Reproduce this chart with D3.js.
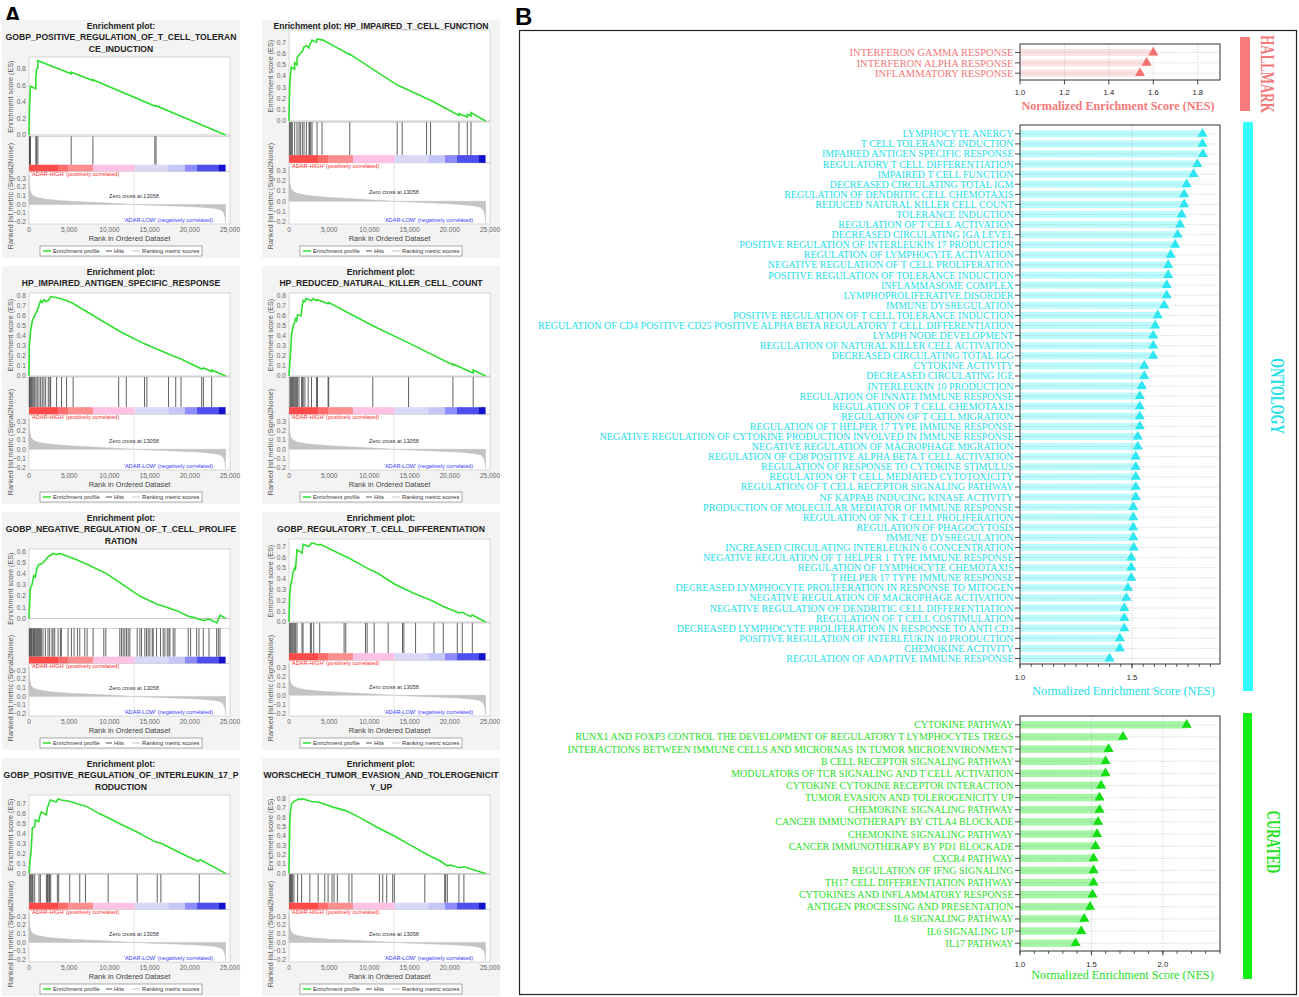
<!DOCTYPE html>
<html>
<head>
<meta charset="utf-8">
<script src="https://cdn.jsdelivr.net/npm/d3@7"></script>
<style>
  body { margin: 0; background: #fff; }
  svg { display: block; }
</style>
</head>
<body>
<div id="chart"></div>
<script>
// ---------- panel A : GSEA enrichment plots ----------
const gseaTitles = [
  ["Enrichment plot:", "GOBP_POSITIVE_REGULATION_OF_T_CELL_TOLERAN", "CE_INDUCTION"],
  ["Enrichment plot: HP_IMPAIRED_T_CELL_FUNCTION"],
  ["Enrichment plot:", "HP_IMPAIRED_ANTIGEN_SPECIFIC_RESPONSE"],
  ["Enrichment plot:", "HP_REDUCED_NATURAL_KILLER_CELL_COUNT"],
  ["Enrichment plot:", "GOBP_NEGATIVE_REGULATION_OF_T_CELL_PROLIFE", "RATION"],
  ["Enrichment plot:", "GOBP_REGULATORY_T_CELL_DIFFERENTIATION"],
  ["Enrichment plot:", "GOBP_POSITIVE_REGULATION_OF_INTERLEUKIN_17_P", "RODUCTION"],
  ["Enrichment plot:", "WORSCHECH_TUMOR_EVASION_AND_TOLEROGENICIT", "Y_UP"]
];

// running enrichment score, [rank, ES]
const es1 = [[0,0],[60,0.33],[120,0.45],[180,0.59],[850,0.56],[850,0.68],[950,0.8],[1100,0.81],[1100,0.9],[5250,0.74],[5250,0.76],[7950,0.66],[7950,0.67],[15650,0.35],[15800,0.355],[24450,0]];
const es2 = [[0,0],[80,0.3],[170,0.4],[290,0.48],[700,0.46],[700,0.52],[1000,0.5],[1000,0.56],[1250,0.59],[1400,0.6],[1660,0.62],[1870,0.66],[2160,0.67],[2490,0.65],[2580,0.68],[2870,0.72],[3400,0.7],[3490,0.73],[4110,0.72],[4110,0.725],[7560,0.59],[7560,0.595],[13460,0.32],[14080,0.3],[17110,0.2],[17610,0.185],[21140,0.05],[21140,0.065],[22180,0.035],[22180,0.06],[22630,0.045],[22630,0.075],[24450,0]];
const es3 = [[0,0],[40,0.3],[210,0.45],[410,0.55],[700,0.6],[1030,0.65],[1240,0.7],[1450,0.75],[1650,0.73],[1860,0.76],[2070,0.74],[2400,0.75],[2690,0.79],[3430,0.78],[4050,0.765],[4670,0.75],[5490,0.72],[11150,0.45],[12100,0.41],[14370,0.32],[14660,0.31],[17350,0.22],[18250,0.19],[18910,0.17],[21480,0.07],[21690,0.08],[22720,0.045],[22720,0.06],[24450,0]];
const es4 = [[0,0],[120,0.15],[330,0.42],[540,0.5],[820,0.57],[950,0.55],[1070,0.61],[1500,0.6],[1650,0.7],[1770,0.75],[1980,0.74],[2100,0.77],[2800,0.75],[3000,0.77],[3420,0.75],[3540,0.76],[4860,0.72],[4940,0.73],[10420,0.5],[14870,0.33],[20390,0.11],[20390,0.12],[22910,0.03],[22910,0.06],[24450,0]];
const es5 = [[0,0],[166,0.27],[374,0.3],[581,0.38],[789,0.37],[997,0.45],[1204,0.48],[1620,0.49],[2035,0.52],[2367,0.55],[2575,0.56],[2990,0.58],[3405,0.57],[3821,0.58],[4028,0.575],[5690,0.53],[7351,0.48],[9635,0.4],[11711,0.3],[13788,0.2],[15864,0.13],[17110,0.1],[18356,0.07],[19810,0.02],[20433,0.01],[21263,-0.01],[21886,-0.02],[22094,-0.005],[22509,-0.01],[23362,-0.04],[23778,0.03],[24450,0]];
const es6 = [[0,0],[83,0.25],[208,0.34],[374,0.4],[498,0.46],[706,0.5],[789,0.48],[830,0.51],[997,0.67],[1412,0.65],[1620,0.64],[1744,0.72],[2160,0.71],[2492,0.7],[2783,0.73],[3073,0.73],[3613,0.715],[3904,0.72],[6936,0.61],[7143,0.605],[9718,0.5],[11089,0.45],[13165,0.35],[15449,0.27],[17733,0.2],[18979,0.15],[20931,0.09],[21263,0.085],[21554,0.09],[22592,0.05],[22800,0.065],[24450,0]];
const es7 = [[0,0],[166,0.15],[291,0.26],[415,0.46],[706,0.47],[789,0.54],[1204,0.52],[1329,0.57],[1537,0.62],[1952,0.6],[2160,0.59],[2284,0.66],[2450,0.7],[2658,0.74],[3405,0.72],[3613,0.75],[4028,0.74],[4859,0.73],[5274,0.72],[6520,0.69],[7018,0.68],[8804,0.6],[9843,0.56],[11296,0.5],[13373,0.42],[15657,0.32],[16488,0.3],[18979,0.2],[21056,0.12],[21263,0.14],[24450,0]];
const es8 = [[0,0],[82,0.5],[165,0.65],[330,0.75],[536,0.76],[742,0.78],[1071,0.79],[1236,0.8],[1442,0.79],[1648,0.8],[2390,0.78],[2719,0.77],[3626,0.765],[4450,0.74],[5480,0.71],[7128,0.67],[8776,0.6],[10836,0.5],[13102,0.4],[15162,0.3],[17222,0.2],[18870,0.13],[19694,0.08],[20106,0.09],[21135,0.06],[21465,0.065],[21754,0.07],[24430,0]];

// gene set hit positions (rank)
const hits1 = [60,120,180,850,950,1100,5250,7950,15650,15800];
const hits2 = [83,166,290,415,706,997,1246,1412,1661,1869,2160,2492,2575,2700,2866,3489,4111,7559,13456,14079,17110,17609,21139,22177,22634];
const hits3 = [40,120,210,290,410,540,700,870,1030,1240,1450,1650,1860,2070,2400,2600,2690,3430,4050,4670,5490,11150,12100,14370,14660,17350,18250,18910,21480,21690,22720];
const hits4 = [120,210,330,450,540,660,820,950,1070,1240,1570,1650,1770,1980,2390,2800,3420,3540,4860,4940,10420,14870,20390,22910];
const hits5 = [42,125,208,291,374,498,581,664,789,914,1038,1163,1287,1412,1537,1744,2035,2367,2575,2866,2990,3198,3613,3904,4028,4859,5274,5607,6022,6313,6936,7226,7974,9303,9552,11296,11504,11711,11919,12127,12334,12542,13456,13788,13996,14411,14619,14826,15034,15325,15449,15864,16363,16695,16903,17194,17401,17526,17941,18149,19810,20101,20849,21139,21679,22385,23340,23548,23756];
const hits6 = [83,166,291,415,581,706,830,997,1620,1744,2658,2783,3073,3821,6852,7060,9510,9718,10590,12334,14120,14286,15740,18024,19187,20931,21554,22800];
const hits7 = [83,166,291,415,498,706,1246,1412,2160,2284,2367,2492,2575,2700,3530,3696,5067,6313,7018,9843,13456,15948,16404,21180];
const hits8 = [82,165,247,330,453,618,1071,1566,2596,3626,4450,4862,5356,5603,6015,7457,7828,11248,11660,12154,12896,13102,16892,19364,19488,19694,21135,21754];

const esDomains = [[-0.016,0.944],[-0.01,0.81],[-0.01,0.825],[-0.01,0.826],[-0.088,0.62],[-0.01,0.77],[-0.01,0.79],[-0.01,0.84]];
const esSteps = [0.2,0.1,0.1,0.1,0.1,0.1,0.1,0.1];

// ranked list metric (Signal2Noise), shared by all plots
const rankedMetric = [[0,0.34],[30,0.25],[100,0.18],[250,0.13],[500,0.1],[1000,0.08],[2000,0.062],[3000,0.052],[5000,0.038],[8000,0.024],[11000,0.01],[13058,0],[15000,-0.008],[18000,-0.018],[21000,-0.03],[23000,-0.045],[23800,-0.06],[24200,-0.09],[24400,-0.15],[24450,-0.21]];
const rankTicks = [0.3,0.2,0.1,0.0,-0.1,-0.2];
const rankXTicks = [0,5000,10000,15000,20000,25000];
const zeroCross = 13058;
const colorBreaks = [0,3610,4860,7970,13160,17320,19390,20850,23550,24450];
const colorBarColors = ["#ff4a4a","#ff6c6c","#ff8e8e","#ffc2e4","#d9d9f7","#c6c6f9","#8c8cff","#4f4fee","#1212cc"];

// ---------- panel B : NES summaries ----------
const hallmarkTerms = ["INTERFERON GAMMA RESPONSE","INTERFERON ALPHA RESPONSE","INFLAMMATORY RESPONSE"];
const hallmarkNES = [1.60,1.57,1.54];

const ontologyTerms = [
  "LYMPHOCYTE ANERGY","T CELL TOLERANCE INDUCTION","IMPAIRED ANTIGEN SPECIFIC RESPONSE","REGULATORY T CELL DIFFERENTIATION",
  "IMPAIRED T CELL FUNCTION","DECREASED CIRCULATING TOTAL IGM","REGULATION OF DENDRITIC CELL CHEMOTAXIS","REDUCED NATURAL KILLER CELL COUNT",
  "TOLERANCE INDUCTION","REGULATION OF T CELL ACTIVATION","DECREASED CIRCULATING IGA LEVEL","POSITIVE REGULATION OF INTERLEUKIN 17 PRODUCTION",
  "REGULATION OF LYMPHOCYTE ACTIVATION","NEGATIVE REGULATION OF T CELL PROLIFERATION","POSITIVE REGULATION OF TOLERANCE INDUCTION","INFLAMMASOME COMPLEX",
  "LYMPHOPROLIFERATIVE DISORDER","IMMUNE DYSREGULATION","POSITIVE REGULATION OF T CELL TOLERANCE INDUCTION",
  "REGULATION OF CD4 POSITIVE CD25 POSITIVE ALPHA BETA REGULATORY T CELL DIFFERENTIATION","LYMPH NODE DEVELOPMENT",
  "REGULATION OF NATURAL KILLER CELL ACTIVATION","DECREASED CIRCULATING TOTAL IGG","CYTOKINE ACTIVITY","DECREASED CIRCULATING IGE",
  "INTERLEUKIN 10 PRODUCTION","REGULATION OF INNATE IMMUNE RESPONSE","REGULATION OF T CELL CHEMOTAXIS","REGULATION OF T CELL MIGRATION",
  "REGULATION OF T HELPER 17 TYPE IMMUNE RESPONSE","NEGATIVE REGULATION OF CYTOKINE PRODUCTION INVOLVED IN IMMUNE RESPONSE",
  "NEGATIVE REGULATION OF MACROPHAGE MIGRATION","REGULATION OF CD8 POSITIVE ALPHA BETA T CELL ACTIVATION","REGULATION OF RESPONSE TO CYTOKINE STIMULUS",
  "REGULATION OF T CELL MEDIATED CYTOTOXICITY","REGULATION OF T CELL RECEPTOR SIGNALING PATHWAY","NF KAPPAB INDUCING KINASE ACTIVITY",
  "PRODUCTION OF MOLECULAR MEDIATOR OF IMMUNE RESPONSE","REGULATION OF NK T CELL PROLIFERATION","REGULATION OF PHAGOCYTOSIS","IMMUNE DYSREGULATION",
  "INCREASED CIRCULATING INTERLEUKIN 6 CONCENTRATION","NEGATIVE REGULATION OF T HELPER 1 TYPE IMMUNE RESPONSE","REGULATION OF LYMPHOCYTE CHEMOTAXIS",
  "T HELPER 17 TYPE IMMUNE RESPONSE","DECREASED LYMPHOCYTE PROLIFERATION IN RESPONSE TO MITOGEN","NEGATIVE REGULATION OF MACROPHAGE ACTIVATION",
  "NEGATIVE REGULATION OF DENDRITIC CELL DIFFERENTIATION","REGULATION OF T CELL COSTIMULATION","DECREASED LYMPHOCYTE PROLIFERATION IN RESPONSE TO ANTI CD3",
  "POSITIVE REGULATION OF INTERLEUKIN 10 PRODUCTION","CHEMOKINE ACTIVITY","REGULATION OF ADAPTIVE IMMUNE RESPONSE"
];
const ontologyNES = [1.815,1.815,1.817,1.792,1.775,1.744,1.733,1.733,1.722,1.715,1.704,1.693,1.673,1.662,1.662,1.655,1.655,1.644,1.615,
  1.604,1.595,1.595,1.595,1.555,1.555,1.544,1.535,1.535,1.535,1.535,1.526,1.526,1.517,1.517,1.517,1.517,1.517,
  1.506,1.506,1.506,1.506,1.508,1.497,1.497,1.497,1.482,1.475,1.466,1.466,1.466,1.446,1.446,1.400];

const curatedTerms = [
  "CYTOKINE PATHWAY","RUNX1 AND FOXP3 CONTROL THE DEVELOPMENT OF REGULATORY T LYMPHOCYTES TREGS",
  "INTERACTIONS BETWEEN IMMUNE CELLS AND MICRORNAS IN TUMOR MICROENVIRONMENT","B CELL RECEPTOR SIGNALING PATHWAY",
  "MODULATORS OF TCR SIGNALING AND T CELL ACTIVATION","CYTOKINE CYTOKINE RECEPTOR INTERACTION","TUMOR EVASION AND TOLEROGENICITY UP",
  "CHEMOKINE SIGNALING PATHWAY","CANCER IMMUNOTHERAPY BY CTLA4 BLOCKADE","CHEMOKINE SIGNALING PATHWAY","CANCER IMMUNOTHERAPY BY PD1 BLOCKADE",
  "CXCR4 PATHWAY","REGULATION OF IFNG SIGNALING","TH17 CELL DIFFERENTIATION PATHWAY","CYTOKINES AND INFLAMMATORY RESPONSE",
  "ANTIGEN PROCESSING AND PRESENTATION","IL6 SIGNALING PATHWAY","IL6 SIGNALING UP","IL17 PATHWAY"
];
const curatedNES = [2.167,1.721,1.620,1.599,1.599,1.568,1.557,1.557,1.547,1.540,1.529,1.515,1.515,1.515,1.508,1.491,1.450,1.429,1.390];

const esCurves = [es1,es2,es3,es4,es5,es6,es7,es8];
const hitSets = [hits1,hits2,hits3,hits4,hits5,hits6,hits7,hits8];

const svg = d3.select("#chart").append("svg")
    .attr("width", 1299)
    .attr("height", 997)
    .style("font-family", "'Liberation Sans', Arial, sans-serif");

svg.append("text").attr("x", 4).attr("y", 24)
  .attr("font-size", 24).attr("font-weight", "bold").text("A");
svg.append("text").attr("x", 515).attr("y", 25)
  .attr("font-size", 24).attr("font-weight", "bold").text("B");

// ---------- GSEA cells ----------
const cellW = 238, cellH = 238;
const colX = [2, 262];
const rowY = [20, 266, 512, 758];
const esTopByLines = {1: 10, 2: 27, 3: 37};

function gseaPlot(i) {
  const lines = gseaTitles[i];
  const g = svg.append("g")
      .attr("transform", `translate(${colX[i % 2]},${rowY[Math.floor(i / 2)]})`);

  g.append("rect").attr("width", cellW).attr("height", cellH).attr("fill", "#f3f3f3");

  g.append("text")
      .attr("text-anchor", "middle")
      .attr("font-size", 8.6)
      .attr("font-weight", "bold")
      .attr("fill", "#222")
    .selectAll("tspan")
    .data(lines)
    .join("tspan")
      .attr("x", cellW / 2)
      .attr("y", (d, j) => 9 + j * 11.3)
      .text(d => d);

  const left = 27, right = 228;
  const top = esTopByLines[lines.length], bottom = 204;
  const H = bottom - top;
  const esB = top + H * 0.475;
  const hitB = esB + H * 0.17;
  const barB = hitB + H * 0.04;

  const x = d3.scaleLinear().domain([0, 25000]).range([left, right]);
  const yES = d3.scaleLinear().domain(esDomains[i]).range([esB, top]);
  const yR = d3.scaleLinear().domain([-0.225, 0.38]).range([bottom, barB]);

  // panel backgrounds
  [[top, esB], [esB, barB], [barB, bottom]].forEach(p => {
    g.append("rect")
      .attr("x", left).attr("y", p[0])
      .attr("width", right - left).attr("height", p[1] - p[0])
      .attr("fill", "#fff").attr("stroke", "#c8c8c8").attr("stroke-width", 0.7);
  });

  // zero line of ES
  g.append("line")
    .attr("x1", left).attr("x2", right)
    .attr("y1", yES(0)).attr("y2", yES(0))
    .attr("stroke", "#b0b0b0").attr("stroke-width", 0.7);

  // ES curve
  g.append("path")
    .datum(esCurves[i])
    .attr("fill", "none")
    .attr("stroke", "#2ee02e")
    .attr("stroke-width", 1.6)
    .attr("d", d3.line().x(d => x(d[0])).y(d => yES(d[1])));

  // hits
  g.append("g").selectAll("line")
    .data(hitSets[i])
    .join("line")
      .attr("x1", d => x(d)).attr("x2", d => x(d))
      .attr("y1", esB).attr("y2", hitB)
      .attr("stroke", "#3a3a3a").attr("stroke-width", 0.8);

  // colour bar
  g.append("g").selectAll("rect")
    .data(colorBarColors)
    .join("rect")
      .attr("x", (d, k) => x(colorBreaks[k]))
      .attr("width", (d, k) => x(colorBreaks[k + 1]) - x(colorBreaks[k]))
      .attr("y", hitB).attr("height", barB - hitB)
      .attr("fill", d => d);

  // ranked metric
  g.append("line")
    .attr("x1", x(zeroCross)).attr("x2", x(zeroCross))
    .attr("y1", barB).attr("y2", bottom)
    .attr("stroke", "#d8d8d8").attr("stroke-width", 0.7);
  g.append("path")
    .datum(rankedMetric)
    .attr("fill", "#c4c4c4")
    .attr("stroke", "#b8b8b8")
    .attr("stroke-width", 0.4)
    .attr("d", d3.area().x(d => x(d[0])).y0(yR(0)).y1(d => yR(d[1])));

  g.append("text")
    .attr("x", left + 2).attr("y", barB + 4.8)
    .attr("font-size", 5.6).attr("fill", "#ff2a2a")
    .text("'ADAR-HIGH' (positively correlated)");
  g.append("text")
    .attr("x", right - 17).attr("y", bottom - 2.2)
    .attr("text-anchor", "end")
    .attr("font-size", 5.6).attr("fill", "#3a3aff")
    .text("'ADAR-LOW' (negatively correlated)");
  g.append("text")
    .attr("x", x(zeroCross)).attr("y", yR(0.07))
    .attr("text-anchor", "middle")
    .attr("font-size", 5.6).attr("fill", "#333")
    .text(`Zero cross at ${zeroCross}`);

  // axes labels
  const tickFont = 6.6, tickCol = "#666";
  const esTicks = d3.range(0, esDomains[i][1] - 0.015, esSteps[i]);
  g.append("g").selectAll("text")
    .data(esTicks)
    .join("text")
      .attr("x", left - 3).attr("y", d => yES(d) + 2.3)
      .attr("text-anchor", "end")
      .attr("font-size", tickFont).attr("fill", tickCol)
      .text(d3.format(".1f"));
  g.append("g").selectAll("text")
    .data(rankTicks)
    .join("text")
      .attr("x", left - 3).attr("y", d => yR(d) + 2.3)
      .attr("text-anchor", "end")
      .attr("font-size", tickFont).attr("fill", tickCol)
      .text(d3.format(".1f"));
  g.append("g").selectAll("text")
    .data(rankXTicks)
    .join("text")
      .attr("x", d => x(d)).attr("y", 212)
      .attr("text-anchor", "middle")
      .attr("font-size", tickFont).attr("fill", tickCol)
      .text(d3.format(","));

  g.append("text")
    .attr("x", (left + right) / 2).attr("y", 221)
    .attr("text-anchor", "middle")
    .attr("font-size", 7.4).attr("fill", "#444")
    .text("Rank in Ordered Dataset");

  g.append("text")
    .attr("transform", `translate(10.5,${(top + esB) / 2}) rotate(-90)`)
    .attr("text-anchor", "middle")
    .attr("font-size", 7.2).attr("fill", "#555")
    .text("Enrichment score (ES)");
  g.append("text")
    .attr("transform", `translate(10.5,176) rotate(-90)`)
    .attr("text-anchor", "middle")
    .attr("font-size", 7.2).attr("fill", "#555")
    .text("Ranked list metric (Signal2Noise)");

  // legend
  const lg = g.append("g").attr("transform", "translate(0,226)");
  lg.append("rect").attr("x", 38).attr("width", 162).attr("height", 10)
    .attr("fill", "#fff").attr("stroke", "#777").attr("stroke-width", 0.6);
  const items = [
    {x: 41, w: 8, col: "#2ee02e", sw: 1.5, label: "Enrichment profile"},
    {x: 104, w: 6, col: "#444", sw: 0.9, label: "Hits"},
    {x: 130, w: 8, col: "#cfcfcf", sw: 1.2, label: "Ranking metric scores"}
  ];
  items.forEach(it => {
    lg.append("line").attr("x1", it.x).attr("x2", it.x + it.w)
      .attr("y1", 5).attr("y2", 5)
      .attr("stroke", it.col).attr("stroke-width", it.sw);
    lg.append("text").attr("x", it.x + it.w + 2).attr("y", 7.2)
      .attr("font-size", 5.8).attr("fill", "#333").text(it.label);
  });
}

d3.range(8).forEach(gseaPlot);

// ---------- panel B ----------
svg.append("rect")
  .attr("x", 519.5).attr("y", 30.5)
  .attr("width", 777).attr("height", 964)
  .attr("fill", "none").attr("stroke", "#222").attr("stroke-width", 1.2);

function nesSection(terms, nes, o) {
  const g = svg.append("g");
  const x = d3.scaleLinear().domain(o.domain).range([1020, 1220]);
  const y = d3.scalePoint().domain(d3.range(terms.length)).range(o.rows);
  const [fTop, fBot] = o.frame;

  g.append("g").selectAll("rect")
    .data(nes)
    .join("rect")
      .attr("x", x(o.domain[0]))
      .attr("y", (d, i) => y(i) - o.barH / 2)
      .attr("width", d => x(d) - x(o.domain[0]))
      .attr("height", o.barH)
      .attr("fill", o.barColor);

  // dotted grid
  g.append("g").selectAll("line")
    .data(d3.range(terms.length))
    .join("line")
      .attr("x1", 1020).attr("x2", 1220)
      .attr("y1", i => y(i)).attr("y2", i => y(i))
      .attr("stroke", "#aaa").attr("stroke-width", 0.6)
      .attr("stroke-dasharray", "1,1.5");
  g.append("g").selectAll("line")
    .data(o.major.slice(1))
    .join("line")
      .attr("x1", d => x(d)).attr("x2", d => x(d))
      .attr("y1", fTop).attr("y2", fBot)
      .attr("stroke", "#aaa").attr("stroke-width", 0.6)
      .attr("stroke-dasharray", "1,1.5");

  g.append("g").selectAll("path")
    .data(nes)
    .join("path")
      .attr("transform", (d, i) => `translate(${x(d)},${y(i)})`)
      .attr("d", d3.symbol(d3.symbolTriangle, 44))
      .attr("fill", o.triColor);

  g.append("rect")
    .attr("x", 1020).attr("y", fTop)
    .attr("width", 200).attr("height", fBot - fTop)
    .attr("fill", "none").attr("stroke", "#333").attr("stroke-width", 1);

  // left ticks and labels
  g.append("g").selectAll("line")
    .data(d3.range(terms.length))
    .join("line")
      .attr("x1", 1015).attr("x2", 1020)
      .attr("y1", i => y(i)).attr("y2", i => y(i))
      .attr("stroke", "#333").attr("stroke-width", 0.9);
  g.append("g").selectAll("text")
    .data(terms)
    .join("text")
      .attr("x", 1013.5)
      .attr("y", (d, i) => y(i))
      .attr("dy", "0.35em")
      .attr("text-anchor", "end")
      .attr("font-family", "'Liberation Serif', 'Times New Roman', serif")
      .attr("font-size", o.labelSize)
      .attr("fill", o.textColor)
      .text(d => d);

  // bottom axis
  g.append("g").selectAll("line")
    .data(o.minor)
    .join("line")
      .attr("x1", d => x(d)).attr("x2", d => x(d))
      .attr("y1", fBot).attr("y2", fBot + 3)
      .attr("stroke", "#333").attr("stroke-width", 0.8);
  g.append("g").selectAll("line")
    .data(o.major)
    .join("line")
      .attr("x1", d => x(d)).attr("x2", d => x(d))
      .attr("y1", fBot).attr("y2", fBot + 4.5)
      .attr("stroke", "#333").attr("stroke-width", 0.9);
  g.append("g").selectAll("text")
    .data(o.major)
    .join("text")
      .attr("x", d => x(d)).attr("y", o.tickY)
      .attr("text-anchor", "middle")
      .attr("font-size", 7.6).attr("fill", "#222")
      .text(d3.format(".1f"));

  g.append("text")
    .attr("x", o.titleX).attr("y", o.titleY)
    .attr("text-anchor", "middle")
    .attr("font-family", "'Liberation Serif', 'Times New Roman', serif")
    .attr("font-size", 12.2)
    .attr("font-weight", o.titleBold ? "bold" : "normal")
    .attr("fill", o.textColor)
    .text("Normalized Enrichment Score (NES)");

  // category strip
  g.append("rect")
    .attr("x", o.strip[0]).attr("y", o.strip[1])
    .attr("width", o.strip[2]).attr("height", o.strip[3] - o.strip[1])
    .attr("fill", o.stripColor);
  g.append("text")
    .attr("transform", `translate(${o.name[1]},${o.name[2]}) rotate(90) scale(0.68,1)`)
    .attr("text-anchor", "middle")
    .attr("dy", "0.35em")
    .attr("font-family", "'Liberation Serif', 'Times New Roman', serif")
    .attr("font-size", 19)
    .attr("font-weight", "bold")
    .attr("fill", o.textColor)
    .text(o.name[0]);
}

nesSection(hallmarkTerms, hallmarkNES, {
  domain: [1.0, 1.9], major: [1.0, 1.2, 1.4, 1.6, 1.8], minor: [],
  rows: [52.5, 73.2], frame: [44, 80], barH: 7, labelSize: 10.5,
  tickY: 95, titleY: 110, titleX: 1118, titleBold: true,
  barColor: "#fde2e3", triColor: "#f77070", textColor: "#f57878", stripColor: "#f77b7b",
  strip: [1240, 37, 10, 111], name: ["HALLMARK", 1267.5, 74]
});

nesSection(ontologyTerms, ontologyNES, {
  domain: [1.0, 1.893], major: [1.0, 1.5], minor: d3.range(1.0, 1.86, 0.05),
  rows: [133.8, 658.5], frame: [125, 664], barH: 7, labelSize: 10,
  tickY: 680, titleY: 695, titleX: 1123.5, titleBold: false,
  barColor: "#bafcfd", triColor: "#2ee6f2", textColor: "#22e0ea", stripColor: "#33ffff",
  strip: [1243, 122, 10, 691], name: ["ONTOLOGY", 1277.5, 396]
});

nesSection(curatedTerms, curatedNES, {
  domain: [1.0, 2.4], major: [1.0, 1.5, 2.0], minor: d3.range(1.0, 2.41, 0.1),
  rows: [724.8, 943.2], frame: [716, 951], barH: 7.4, labelSize: 10,
  tickY: 967, titleY: 979, titleX: 1122.5, titleBold: false,
  barColor: "#a3f6a3", triColor: "#14dd14", textColor: "#1fdf1f", stripColor: "#14ee14",
  strip: [1243, 713, 9, 979], name: ["CURATED", 1274, 842]
});
</script>
</body>
</html>
